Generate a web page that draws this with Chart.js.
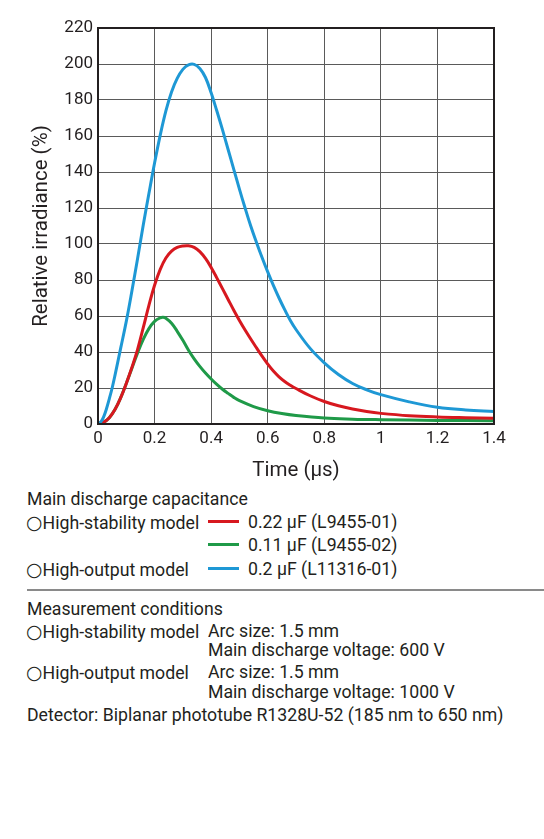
<!DOCTYPE html>
<html lang="en">
  <head>
    <meta charset="UTF-8" />
    <title>Relative irradiance vs time</title>
    <style>
      * {
        margin: 0;
        padding: 0;
        box-sizing: border-box;
        font-family: Roboto, "Noto Sans", sans-serif;
      }
      body {
        width: 544px;
        height: 839px;
        background: #fff;
        color: #231f20;
        position: relative;
      }
      .chartBox {
        position: absolute;
        left: 0;
        top: 0;
        width: 544px;
        height: 486px;
      }
      .line {
        position: absolute;
        left: 27px;
        height: 22px;
        line-height: 22px;
        font-size: 17.7px;
        white-space: nowrap;
      }
      .circ {
        font-family: "DejaVu Sans", sans-serif;
        font-size: 19px;
        margin-left: -1px;
      }
      .swatch {
        position: absolute;
        left: 208px;
        width: 31px;
        height: 3px;
      }
      .indent {
        left: 208px;
      }
      .lbl {
        left: 248px;
      }
      .sep {
        position: absolute;
        left: 27px;
        top: 589px;
        width: 517px;
        height: 1.5px;
        background: #8a8a8a;
      }
    </style>
  </head>
  <body>
    <div class="chartBox">
      <canvas id="myChart"></canvas>
    </div>

    <div class="line" style="top: 488px">Main discharge capacitance</div>
    <div class="line" style="top: 511px"><span class="circ">○</span>High-stability model</div>
    <div class="swatch" id="sw0" style="top: 520px"></div>
    <div class="line lbl" id="lb0" style="top: 511px"></div>
    <div class="swatch" id="sw1" style="top: 543px"></div>
    <div class="line lbl" id="lb1" style="top: 534px"></div>
    <div class="line" style="top: 558px"><span class="circ">○</span>High-output model</div>
    <div class="swatch" id="sw2" style="top: 567px"></div>
    <div class="line lbl" id="lb2" style="top: 558px"></div>

    <div class="sep"></div>

    <div class="line" style="top: 598px">Measurement conditions</div>
    <div class="line" style="top: 620px"><span class="circ">○</span>High-stability model</div>
    <div class="line indent" style="top: 620px">Arc size: 1.5 mm</div>
    <div class="line indent" style="top: 639px">Main discharge voltage: 600 V</div>
    <div class="line" style="top: 661px"><span class="circ">○</span>High-output model</div>
    <div class="line indent" style="top: 661px">Arc size: 1.5 mm</div>
    <div class="line indent" style="top: 681px">Main discharge voltage: 1000 V</div>
    <div class="line" style="top: 704px">Detector: Biplanar phototube R1328U-52 (185 nm to 650 nm)</div>

    <script src="https://cdn.jsdelivr.net/npm/chart.js"></script>
    <script>
      // time in µs, relative irradiance in %
      const timeRed = [0, 0.02, 0.04, 0.06, 0.08, 0.1, 0.12, 0.14, 0.16, 0.18, 0.2, 0.22, 0.24, 0.26, 0.28, 0.3, 0.32, 0.34, 0.36, 0.38, 0.4, 0.42, 0.44, 0.46, 0.48, 0.5, 0.52, 0.54, 0.56, 0.58, 0.6, 0.62, 0.64, 0.66, 0.68, 0.7, 0.75, 0.8, 0.85, 0.9, 0.95, 1.0, 1.1, 1.2, 1.3, 1.4];
      const valRed = [0.5, 1, 3.5, 8, 14.5, 22.5, 31.5, 41.5, 53.5, 65.9, 77.1, 85.9, 92.2, 96, 98.1, 98.9, 99, 98.1, 95.8, 92, 87, 81.2, 75.2, 69.2, 63.2, 57.5, 52.2, 47.2, 42.4, 37.7, 33.3, 29.4, 26.2, 23.6, 21.5, 19.7, 15.7, 12.5, 10.1, 8.3, 6.9, 5.9, 4.6, 3.9, 3.5, 3.2];

      const timeGreen = [0, 0.02, 0.04, 0.06, 0.08, 0.1, 0.12, 0.14, 0.16, 0.18, 0.2, 0.22, 0.23, 0.24, 0.26, 0.28, 0.3, 0.32, 0.34, 0.36, 0.38, 0.4, 0.42, 0.44, 0.46, 0.48, 0.5, 0.55, 0.6, 0.65, 0.7, 0.8, 0.9, 1.0, 1.2, 1.4];
      const valGreen = [0.5, 1, 3.5, 8, 14.5, 22.5, 31, 39.5, 47, 53, 57, 59, 59.3, 58.8, 56, 51.5, 46.5, 41, 36.2, 32, 28.3, 25, 22, 19.3, 17, 14.8, 13, 9.7, 7.4, 5.8, 4.7, 3.3, 2.7, 2.4, 2.0, 1.8];

      const timeBlue = [0, 0.01, 0.02, 0.03, 0.04, 0.05, 0.06, 0.08, 0.1, 0.12, 0.14, 0.16, 0.18, 0.2, 0.22, 0.24, 0.26, 0.28, 0.3, 0.32, 0.34, 0.36, 0.38, 0.4, 0.42, 0.44, 0.46, 0.48, 0.5, 0.52, 0.54, 0.56, 0.58, 0.6, 0.62, 0.64, 0.66, 0.68, 0.7, 0.75, 0.8, 0.85, 0.9, 0.95, 1.0, 1.1, 1.2, 1.3, 1.4];
      const valBlue = [0, 1.2, 4, 8.5, 14, 20, 27, 42, 57, 74, 92, 110.5, 128, 145, 160.5, 174, 184.5, 192, 197, 199.5, 199.8, 197.5, 192.5, 184, 174, 163.5, 152.5, 141.5, 130.5, 120, 110, 101, 92.5, 84.5, 77, 70, 63.5, 57.5, 52.5, 42, 34, 27.5, 22.5, 19, 16.3, 12.3, 9.3, 7.8, 7];

      const seriesLabels = ["0.22 µF (L9455-01)", "0.11 µF (L9455-02)", "0.2 µF (L11316-01)"];
      const seriesColors = ["#d7181f", "#1f9a48", "#1e98d5"];

      const xTicks = [0, 0.2, 0.4, 0.6, 0.8, 1, 1.2, 1.4];
      const yTicks = [0, 20, 40, 60, 80, 100, 120, 140, 160, 180, 200, 220];

      const toPoints = (xs, ys) => xs.map((x, i) => ({ x: x, y: ys[i] }));

      const lineStyle = (i) => ({
        label: seriesLabels[i],
        borderColor: seriesColors[i],
        backgroundColor: seriesColors[i],
        borderWidth: 3,
        pointRadius: 0,
        tension: 0.4,
        fill: false,
      });

      const data = {
        datasets: [
          { ...lineStyle(1), data: toPoints(timeGreen, valGreen), order: 3 },
          { ...lineStyle(0), data: toPoints(timeRed, valRed), order: 2 },
          { ...lineStyle(2), data: toPoints(timeBlue, valBlue), order: 1 },
        ],
      };

      const tickFont = { family: "Roboto", size: 17 };
      const titleFont = { family: "Roboto", size: 20.5 };

      const config = {
        type: "line",
        data: data,
        options: {
          responsive: true,
          maintainAspectRatio: false,
          animation: false,
          layout: { padding: { top: 28, right: 50, left: 0, bottom: 0 } },
          plugins: {
            legend: { display: false },
            tooltip: { enabled: false },
          },
          scales: {
            x: {
              type: "linear",
              min: 0,
              max: 1.4,
              afterBuildTicks: (scale) => {
                scale.ticks = xTicks.map((v) => ({ value: v }));
              },
              afterFit: (scale) => {
                scale.height = 62;
              },
              ticks: {
                color: "#231f20",
                font: tickFont,
                padding: 5,
                maxRotation: 0,
                callback: (v) => String(v),
              },
              grid: { color: "#5a5a5a", lineWidth: 1, drawTicks: false },
              border: { color: "#231f20", width: 2 },
              title: {
                display: true,
                text: "Time (µs)",
                color: "#231f20",
                font: titleFont,
                padding: { top: 4, bottom: 3 },
              },
            },
            y: {
              min: 0,
              max: 220,
              afterBuildTicks: (scale) => {
                scale.ticks = yTicks.map((v) => ({ value: v }));
              },
              afterFit: (scale) => {
                scale.width = 98;
              },
              ticks: {
                color: "#231f20",
                font: tickFont,
                padding: 5,
              },
              grid: { color: "#5a5a5a", lineWidth: 1, drawTicks: false },
              border: { color: "#231f20", width: 2 },
              title: {
                display: true,
                text: "Relative irradiance (%)",
                color: "#231f20",
                font: titleFont,
                padding: { top: 30, bottom: 0 },
              },
            },
          },
        },
        plugins: [
          {
            id: "frame",
            afterDraw(chart) {
              const { ctx, chartArea: a } = chart;
              ctx.save();
              ctx.strokeStyle = "#231f20";
              ctx.lineWidth = 2;
              ctx.strokeRect(a.left, a.top, a.right - a.left, a.bottom - a.top);
              ctx.restore();
            },
          },
        ],
      };

      const myChart = new Chart(document.getElementById("myChart"), config);

      // legend rows under the chart, colours taken from the series
      [0, 1, 2].forEach((i) => {
        document.getElementById("sw" + i).style.background = seriesColors[i];
        document.getElementById("lb" + i).textContent = seriesLabels[i];
      });
    </script>
  </body>
</html>
